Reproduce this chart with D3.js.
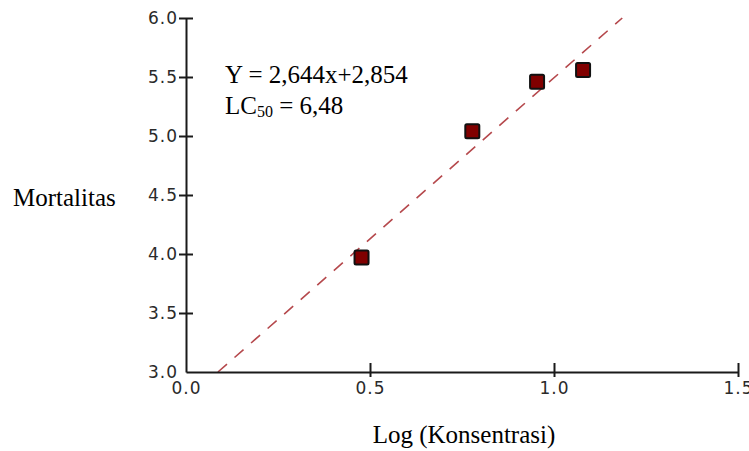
<!DOCTYPE html>
<html>
<head>
<meta charset="utf-8">
<title>Mortalitas vs Log (Konsentrasi)</title>
<script src="https://d3js.org/d3.v7.min.js"></script>
<style>
  body { margin: 0; background: #fff; }
  .tick text { font: 17px "DejaVu Sans", Verdana, sans-serif; fill: #2a2a2a; letter-spacing: 1px; }
  .label { font: 25px "Liberation Serif", "Times New Roman", serif; fill: #000; }
</style>
</head>
<body>
<svg width="749" height="451"></svg>
<script>
// ----- data -----
var logConc = [0.477, 0.778, 0.954, 1.079];
var mortality = [3.97, 5.04, 5.46, 5.56];
var xTicks = [0, 0.5, 1.0, 1.5];
var yTicks = [3.0, 3.5, 4.0, 4.5, 5.0, 5.5, 6.0];
var equationText = "Y = 2,644x+2,854";
var lcText = "6,48";

var svg = d3.select("svg");

var x = d3.scaleLinear().domain([0, 1.5]).range([186, 738]);
var y = d3.scaleLinear().domain([3, 6]).range([372, 18]);

// least squares line through the points (the dashed trend)
var mx = d3.mean(logConc), my = d3.mean(mortality);
var sxy = d3.sum(logConc, function(d, i) { return (d - mx) * (mortality[i] - my); });
var sxx = d3.sum(logConc, function(d) { return (d - mx) * (d - mx); });
var slope = sxy / sxx, intercept = my - slope * mx;
var x0 = (3 - intercept) / slope, x1 = (6 - intercept) / slope;

svg.append("line")
    .attr("x1", x(x0)).attr("y1", y(3))
    .attr("x2", x(x1)).attr("y2", y(6))
    .attr("stroke", "#b5484c")
    .attr("stroke-width", 1.6)
    .attr("stroke-dasharray", "12,10");

// axes
var xAxis = svg.append("g")
    .attr("class", "x-axis")
    .attr("transform", "translate(0," + y(3) + ")")
    .call(d3.axisBottom(x).tickValues(xTicks).tickFormat(d3.format(".1f")).tickSize(0).tickPadding(10));

var yAxis = svg.append("g")
    .attr("class", "y-axis")
    .attr("transform", "translate(" + x(0) + ",0)")
    .call(d3.axisLeft(y).tickValues(yTicks).tickFormat(d3.format(".1f")).tickSize(0).tickPadding(8));

svg.selectAll(".domain").attr("stroke", "#1a1a1a").attr("stroke-width", 2);

// crossing tick marks
xAxis.selectAll(".tick").filter(function(d) { return d > 0; }).append("line")
    .attr("y1", -9).attr("y2", 5)
    .attr("stroke", "#1a1a1a").attr("stroke-width", 2);
yAxis.selectAll(".tick").filter(function(d) { return d > 3; }).append("line")
    .attr("x1", -7).attr("x2", 7)
    .attr("stroke", "#1a1a1a").attr("stroke-width", 2);

xAxis.selectAll(".tick text").attr("dy", "0.71em");
yAxis.selectAll(".tick text").attr("dy", "0.34em");

// points
svg.selectAll(".pt")
    .data(logConc)
  .enter().append("rect")
    .attr("class", "pt")
    .attr("x", function(d) { return x(d) - 7; })
    .attr("y", function(d, i) { return y(mortality[i]) - 7; })
    .attr("width", 14)
    .attr("height", 14)
    .attr("rx", 1.5)
    .attr("fill", "#800000")
    .attr("stroke", "#111")
    .attr("stroke-width", 2);

// labels
svg.append("text").attr("class", "label")
    .attr("x", 225).attr("y", 83)
    .text(equationText);

var lc = svg.append("text").attr("class", "label")
    .attr("x", 225).attr("y", 114);
lc.append("tspan").text("LC");
lc.append("tspan").attr("font-size", "16px").attr("dy", 3).text("50");
lc.append("tspan").attr("dy", -3).text(" = " + lcText);

svg.append("text").attr("class", "label")
    .attr("x", 13).attr("y", 206)
    .text("Mortalitas");

svg.append("text").attr("class", "label")
    .attr("x", 464).attr("y", 443)
    .attr("text-anchor", "middle")
    .text("Log (Konsentrasi)");
</script>
</body>
</html>
